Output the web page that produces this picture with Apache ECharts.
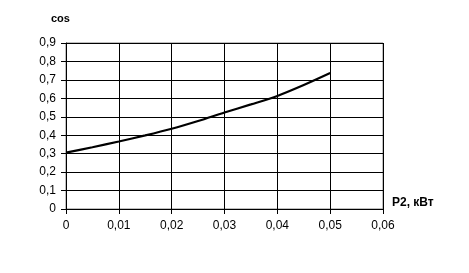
<!DOCTYPE html>
<html><head><meta charset="utf-8">
<script src="https://cdn.jsdelivr.net/npm/echarts@6/dist/echarts.min.js"></script>
<style>html,body{margin:0;padding:0;background:#fff}#c{width:469px;height:273px}</style>
</head><body><div id="c"></div>
<script>
const pValues = [0, 0.005, 0.01, 0.015, 0.02, 0.025, 0.03, 0.035, 0.04, 0.045, 0.05];
const cosValues = [0.306, 0.335, 0.366, 0.399, 0.435, 0.477, 0.523, 0.567, 0.613, 0.672, 0.737];
const xTicks = [0, 0.01, 0.02, 0.03, 0.04, 0.05, 0.06];
const yTicks = [0, 0.1, 0.2, 0.3, 0.4, 0.5, 0.6, 0.7, 0.8, 0.9];
const yTitle = 'cos';
const xTitle = 'P2, кВт';

const fmt = v => String(+v.toFixed(2)).replace('.', ',');
const font = 'Liberation Sans, Arial, sans-serif';
const chart = echarts.init(document.getElementById('c'), null, {renderer: 'canvas'});
chart.setOption({
  animation: false,
  grid: {left: 66, top: 43, right: 86, bottom: 64, show: true, borderColor: '#808080', borderWidth: 1},
  xAxis: {
    type: 'value', min: xTicks[0], max: xTicks[xTicks.length - 1], interval: 0.01,
    axisLine: {show: true, lineStyle: {color: '#000', width: 1}},
    axisTick: {show: true, length: 5, lineStyle: {color: '#000'}},
    splitLine: {show: true, lineStyle: {color: '#000', width: 1}},
    axisLabel: {formatter: fmt, color: '#000', fontFamily: font, fontSize: 12, margin: 11}
  },
  yAxis: {
    type: 'value', min: yTicks[0], max: yTicks[yTicks.length - 1], interval: 0.1,
    axisLine: {show: true, lineStyle: {color: '#000', width: 1}},
    axisTick: {show: true, length: 5, lineStyle: {color: '#000'}},
    splitLine: {show: true, lineStyle: {color: '#000', width: 1}},
    axisLabel: {formatter: fmt, color: '#000', fontFamily: font, fontSize: 12, margin: 10}
  },
  graphic: [
    {type: 'text', left: 51, top: 13, style: {text: yTitle, font: 'bold 11px ' + font, fill: '#000'}},
    {type: 'text', left: 392, top: 197, style: {text: xTitle, font: 'bold 12px ' + font, fill: '#000'}}
  ],
  series: [{
    type: 'line', data: pValues.map((p, i) => [p, cosValues[i]]),
    smooth: 0.3, showSymbol: false,
    lineStyle: {color: '#000', width: 2.2}
  }]
});
</script></body></html>
